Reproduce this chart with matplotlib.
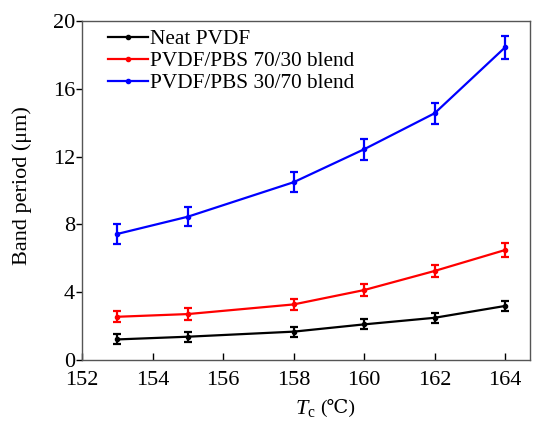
import matplotlib
matplotlib.use("Agg")
import matplotlib.pyplot as plt
from matplotlib.lines import Line2D

plt.rcParams["font.family"] = ["Liberation Serif", "DejaVu Serif"]
plt.rcParams["mathtext.fontset"] = "custom"
plt.rcParams["mathtext.rm"] = "Liberation Serif"
plt.rcParams["mathtext.it"] = "Liberation Serif:italic"

temps = [153, 155, 158, 160, 162, 164]

neat = [1.19, 1.35, 1.65, 2.08, 2.47, 3.17]
neat_err = [0.30, 0.30, 0.30, 0.30, 0.30, 0.32]

blend_70_30 = [2.53, 2.69, 3.26, 4.11, 5.24, 6.48]
blend_70_30_err = [0.32, 0.33, 0.35, 0.36, 0.38, 0.43]

blend_30_70 = [7.43, 8.45, 10.49, 12.44, 14.57, 18.47]
blend_30_70_err = [0.57, 0.57, 0.60, 0.63, 0.62, 0.70]

series = [
    ("Neat PVDF", neat, neat_err, "black"),
    ("PVDF/PBS 70/30 blend", blend_70_30, blend_70_30_err, "red"),
    ("PVDF/PBS 30/70 blend", blend_30_70, blend_30_70_err, "blue"),
]

fig = plt.figure(figsize=(5.33, 4.21), dpi=100)
ax = fig.add_axes([0.154, 0.146, 0.840, 0.803])

handles = []
for label, vals, errs, color in series:
    ax.errorbar(temps, vals, yerr=errs, color=color, lw=1.6, marker="o",
                markersize=3, capsize=3.2, capthick=1.6, elinewidth=1.6)
    handles.append(Line2D([0], [0], color=color, lw=1.6, marker="o",
                          markersize=3, label=label))

ax.set_xlim(152, 164.7)
ax.set_ylim(0, 20)
ax.set_xticks([152, 154, 156, 158, 160, 162, 164])
ax.set_yticks([0, 4, 8, 12, 16, 20])
ax.tick_params(axis="x", direction="in", length=5, width=1, labelsize=16, pad=8)
ax.tick_params(axis="y", direction="out", length=4, width=1, labelsize=16, pad=1)
for sp in ax.spines.values():
    sp.set_color("#555555")
    sp.set_linewidth(1.0)

ax.set_ylabel("Band period (μm)", fontsize=16)
ax.yaxis.set_label_coords(-0.112, 0.516)

# x label: italic T with subscript c, then the degree-Celsius unit
ax.text(0.475, -0.115, r"$T_\mathrm{c}$", transform=ax.transAxes,
        ha="left", va="top", fontsize=16)
ax.text(0.531, -0.115, "(℃)", transform=ax.transAxes,
        ha="left", va="top", fontsize=14)

ax.legend(handles=handles, loc="upper left", bbox_to_anchor=(0.03, 1.015),
          frameon=False, fontsize=15.3, handlelength=1.85, handletextpad=0.1,
          labelspacing=0.1, borderaxespad=0.2)

fig.savefig("out.png", dpi=100)
